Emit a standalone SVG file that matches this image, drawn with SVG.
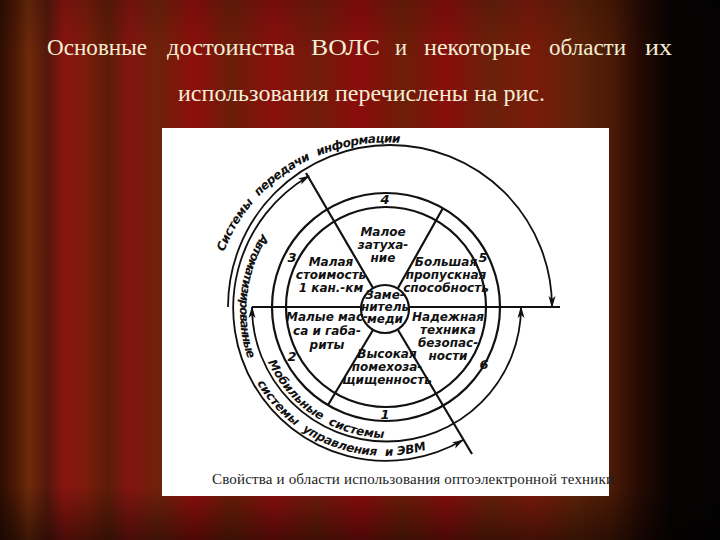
<svg xmlns="http://www.w3.org/2000/svg" xmlns:xlink="http://www.w3.org/1999/xlink" width="720" height="540" viewBox="0 0 720 540">
<defs>
<linearGradient id="curtain" x1="0" y1="0" x2="1" y2="0">
<stop offset="0" stop-color="#2e0e03"/>
<stop offset="0.02" stop-color="#4a1805"/>
<stop offset="0.04" stop-color="#6e2a0a"/>
<stop offset="0.065" stop-color="#55180a"/>
<stop offset="0.09" stop-color="#8a1410"/>
<stop offset="0.12" stop-color="#7a1c0a"/>
<stop offset="0.15" stop-color="#5c1c08"/>
<stop offset="0.18" stop-color="#841410"/>
<stop offset="0.22" stop-color="#6e220a"/>
<stop offset="0.27" stop-color="#8e0e0c"/>
<stop offset="0.32" stop-color="#6a1e08"/>
<stop offset="0.38" stop-color="#8a0f0d"/>
<stop offset="0.44" stop-color="#701c0a"/>
<stop offset="0.5" stop-color="#8c0c0c"/>
<stop offset="0.56" stop-color="#6c1e08"/>
<stop offset="0.62" stop-color="#880e0c"/>
<stop offset="0.68" stop-color="#6a200a"/>
<stop offset="0.74" stop-color="#7a1a0a"/>
<stop offset="0.8" stop-color="#5e2208"/>
<stop offset="0.85" stop-color="#4a1a06"/>
<stop offset="0.89" stop-color="#240a03"/>
<stop offset="0.93" stop-color="#080302"/>
<stop offset="1" stop-color="#040202"/>
</linearGradient>
<linearGradient id="shade" x1="0" y1="0" x2="0" y2="1">
<stop offset="0" stop-color="#000" stop-opacity="0.15"/>
<stop offset="0.1" stop-color="#000" stop-opacity="0"/>
<stop offset="0.9" stop-color="#000" stop-opacity="0"/>
<stop offset="1" stop-color="#000" stop-opacity="0.45"/>
</linearGradient>
<marker id="arr" viewBox="0 0 12 8" refX="11" refY="4" markerWidth="12" markerHeight="8" markerUnits="userSpaceOnUse" orient="auto-start-reverse">
<path d="M0,0.5 L12,4 L0,7.5 L3,4 Z" fill="#111"/>
</marker>
<path id="pS" d="M 224 252 A 173 166 0 0 1 401 143"/>
<path id="pA1" d="M 262 234 A 146 146 0 0 0 249 362"/>
<path id="pA2" d="M 257 383 A 148 148 0 0 0 432 448"/>
<path id="pM" d="M 268 362 A 131 131 0 0 0 392 438"/>
<style>
.ln{fill:none;stroke:#111;stroke-width:2.2}
.thin{fill:none;stroke:#111;stroke-width:1.8}
.t{font-family:"DejaVu Sans","Liberation Sans",sans-serif;font-weight:bold;font-style:italic;font-size:12px;fill:#111;text-anchor:middle}
.n{font-family:"DejaVu Sans","Liberation Sans",sans-serif;font-style:italic;font-weight:bold;font-size:13px;fill:#111;text-anchor:middle}
.arc{font-family:"DejaVu Sans","Liberation Sans",sans-serif;font-weight:bold;font-style:italic;font-size:12px;fill:#111}
.title{font-family:"Liberation Serif","DejaVu Serif",serif;font-size:24px;fill:#f4eed4}
.cap{font-family:"Liberation Serif","DejaVu Serif",serif;font-size:15px;fill:#222}
</style>
</defs>
<rect x="0" y="0" width="720" height="540" fill="url(#curtain)"/>
<rect x="0" y="0" width="720" height="540" fill="url(#shade)"/>
<g id="title">
<text class="title" x="47" y="55" textLength="100" lengthAdjust="spacingAndGlyphs">Основные</text>
<text class="title" x="167" y="55" textLength="128" lengthAdjust="spacingAndGlyphs">достоинства</text>
<text class="title" x="311" y="55" textLength="69" lengthAdjust="spacingAndGlyphs">ВОЛС</text>
<text class="title" x="395" y="55" textLength="12" lengthAdjust="spacingAndGlyphs">и</text>
<text class="title" x="424" y="55" textLength="107" lengthAdjust="spacingAndGlyphs">некоторые</text>
<text class="title" x="549" y="55" textLength="77" lengthAdjust="spacingAndGlyphs">области</text>
<text class="title" x="645" y="55" textLength="27" lengthAdjust="spacingAndGlyphs">их</text>
<text class="title" x="178" y="101" textLength="367" lengthAdjust="spacing">использования перечислены на рис.</text>
</g>
<rect x="162" y="128" width="447" height="368" fill="#fff"/>
<g id="rings">
<circle class="ln" cx="386" cy="307" r="100"/>
<circle class="ln" cx="386" cy="307" r="114"/>
</g>
<g id="center">
<circle class="ln" cx="385" cy="309" r="24"/>
<text class="t" x="385" y="299">Заме-</text>
<text class="t" x="385" y="311">нитель</text>
<text class="t" x="385" y="323">меди</text>
</g>
<g id="connectors">
<line class="ln" x1="252" y1="307" x2="361" y2="307"/>
<line class="ln" x1="409" y1="307" x2="560" y2="307"/>
<line class="ln" x1="373" y1="288" x2="306" y2="173"/>
<line class="ln" x1="398" y1="288" x2="443" y2="208"/>
<line class="ln" x1="373" y1="330" x2="328" y2="405"/>
<line class="ln" x1="398" y1="330" x2="472" y2="454"/>
<path class="thin" d="M 252 307 A 134 134 0 0 0 521 307" marker-start="url(#arr)" marker-end="url(#arr)"/>
<path class="thin" d="M 309 176 A 152 152 0 1 0 463 440" marker-start="url(#arr)" marker-end="url(#arr)"/>
<path class="thin" d="M 228 307 A 162 162 0 0 1 552 307" marker-end="url(#arr)"/>
</g>
<g id="s4"><text class="n" x="385" y="204">4</text><text class="t" x="383" y="236">Малое</text><text class="t" x="383" y="249">затуха-</text><text class="t" x="383" y="262">ние</text></g>
<g id="s3"><text class="n" x="292" y="262">3</text><text class="t" x="331" y="266">Малая</text><text class="t" x="331" y="279">стоимость</text><text class="t" x="331" y="292">1 кан.-км</text></g>
<g id="s5"><text class="n" x="483" y="262">5</text><text class="t" x="446" y="266">Большая</text><text class="t" x="446" y="279">пропускная</text><text class="t" x="446" y="292">способность</text></g>
<g id="s2"><text class="n" x="292" y="361">2</text><text class="t" x="327" y="321">Малые мас-</text><text class="t" x="327" y="335">са и габа-</text><text class="t" x="327" y="349">риты</text></g>
<g id="s6"><text class="n" x="484" y="369">6</text><text class="t" x="448" y="321">Надежная</text><text class="t" x="448" y="334">техника</text><text class="t" x="448" y="347">безопас-</text><text class="t" x="448" y="360">ности</text></g>
<g id="s1"><text class="n" x="385" y="419">1</text><text class="t" x="387" y="358">Высокая</text><text class="t" x="387" y="371">помехоза-</text><text class="t" x="387" y="384">щищенность</text></g>
<g id="labels">
<text class="arc"><textPath xlink:href="#pS" startOffset="0" textLength="58" lengthAdjust="spacing">Системы</textPath></text>
<text class="arc"><textPath xlink:href="#pS" startOffset="66" textLength="64" lengthAdjust="spacing">передачи</textPath></text>
<text class="arc"><textPath xlink:href="#pS" startOffset="138" textLength="84" lengthAdjust="spacing">информации</textPath></text>
<text class="arc"><textPath xlink:href="#pA1" textLength="130" lengthAdjust="spacing">Автоматизированные</textPath></text>
<text class="arc"><textPath xlink:href="#pA2" startOffset="0" textLength="58" lengthAdjust="spacing">системы</textPath></text>
<text class="arc"><textPath xlink:href="#pA2" startOffset="66" textLength="80" lengthAdjust="spacing">управления</textPath></text>
<text class="arc"><textPath xlink:href="#pA2" startOffset="154" textLength="42" lengthAdjust="spacing">и ЭВМ</textPath></text>
<text class="arc"><textPath xlink:href="#pM" startOffset="0" textLength="80" lengthAdjust="spacing">Мобильные</textPath></text>
<text class="arc"><textPath xlink:href="#pM" startOffset="88" textLength="58" lengthAdjust="spacing">системы</textPath></text>
</g>
<text class="cap" x="212" y="484" textLength="402" lengthAdjust="spacing">Свойства и области использования оптоэлектронной техники</text>
</svg>
